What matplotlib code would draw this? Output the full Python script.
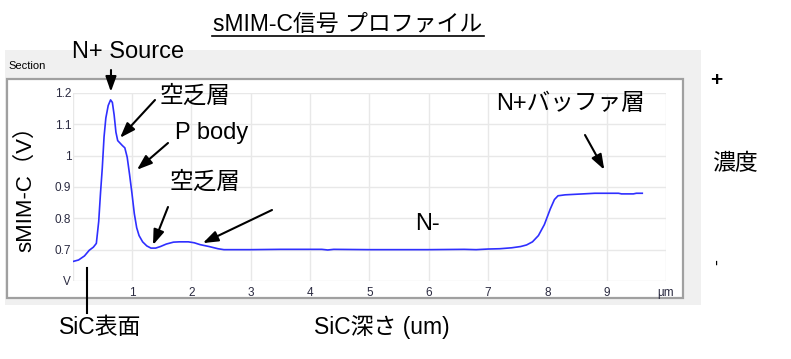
import numpy as np
import matplotlib.pyplot as plt
from matplotlib.patches import Rectangle
from matplotlib.lines import Line2D

# sMIM-C profile (depth in um, signal in V)
depth = [0.00, 0.10, 0.20, 0.28, 0.35, 0.40, 0.44, 0.47, 0.50, 0.53, 0.56, 0.60,
         0.64, 0.67, 0.70, 0.73, 0.76, 0.80, 0.84, 0.88, 0.92, 0.96, 1.00, 1.04,
         1.08, 1.12, 1.18, 1.25, 1.32, 1.40, 1.48, 1.58, 1.70, 1.80, 1.95, 2.05,
         2.15, 2.30, 2.45, 2.55, 3.00, 3.50, 4.20, 4.30, 4.40, 5.00, 5.50, 6.00,
         6.60, 6.80, 7.00, 7.20, 7.40, 7.55, 7.65, 7.75, 7.85, 7.95, 8.05, 8.12,
         8.18, 8.30, 8.60, 8.80, 9.20, 9.25, 9.45, 9.50, 9.60]
signal = [0.662, 0.667, 0.680, 0.698, 0.708, 0.720, 0.790, 0.880, 0.960, 1.060, 1.120, 1.160,
          1.178, 1.170, 1.130, 1.075, 1.048, 1.040, 1.032, 1.025, 0.995, 0.940, 0.880, 0.815,
          0.770, 0.745, 0.725, 0.712, 0.705, 0.705, 0.710, 0.718, 0.724, 0.725, 0.725, 0.722,
          0.716, 0.710, 0.703, 0.700, 0.700, 0.701, 0.701, 0.699, 0.701, 0.700, 0.700, 0.700,
          0.701, 0.700, 0.702, 0.703, 0.706, 0.710, 0.715, 0.725, 0.745, 0.780, 0.830, 0.860,
          0.872, 0.875, 0.878, 0.880, 0.880, 0.878, 0.878, 0.880, 0.880]

xticks = [1, 2, 3, 4, 5, 6, 7, 8, 9, 10]
xticklabels = ['1', '2', '3', '4', '5', '6', '7', '8', '9', 'µm']
yticks = [0.6, 0.7, 0.8, 0.9, 1.0, 1.1, 1.2]
yticklabels = ['V', '0.7', '0.8', '0.9', '1', '1.1', '1.2']

JP = ['Liberation Sans', 'Noto Sans CJK JP', 'DejaVu Sans']
plt.rcParams['font.family'] = JP

W, H = 791, 359
fig = plt.figure(figsize=(W / 100, H / 100), dpi=100)


def px(x, y):
    # pixel position (from top-left) -> figure fraction
    return (x / W, 1 - y / H)


# grey panel and the white framed box
x0, y0 = px(5, 305)
fig.add_artist(Rectangle((x0, y0), 696 / W, 255 / H, transform=fig.transFigure,
                         facecolor='#f0f0f0', edgecolor='none', zorder=-3))
x0, y0 = px(7, 298)
fig.add_artist(Rectangle((x0, y0), 676 / W, 219 / H, transform=fig.transFigure,
                         facecolor='white', edgecolor='#a0a0a0', lw=1.6, zorder=-2))
fig.text(*px(8, 66), 'Section', fontsize=8, va='center', ha='left')

l, b = px(72.6, 281)
ax = fig.add_axes([l, b, (666 - 72.6) / W, (281 - 93) / H])
ax.set_facecolor('none')
ax.plot(depth, signal, color='#2f2fff', lw=1.2)
ax.set_xlim(0, 10)
ax.set_ylim(0.6, 1.2)
ax.set_xticks([0] + xticks)
ax.set_xticklabels([''] + xticklabels)
ax.set_yticks(yticks)
ax.set_yticklabels(yticklabels)
ax.tick_params(length=0, labelsize=8.5, labelcolor='#2a2a40')
ax.tick_params(axis='x', pad=4)
ax.tick_params(axis='y', pad=1)
ax.grid(True, color='#e8e8e8', lw=1)
for s in ax.spines.values():
    s.set_visible(False)

# title with underline
fig.text(*px(348, 24), 'sMIM-C信号 プロファイル', fontsize=16.5, ha='center', va='center')
fig.add_artist(Line2D([212 / W, 484 / W], [1 - 36 / H, 1 - 36 / H], color='black', lw=1.2,
                      transform=fig.transFigure))

fig.text(*px(26, 183), 'sMIM-C（V）', fontsize=16, rotation=90, ha='center', va='center')
fig.text(*px(100, 327), 'SiC表面', fontsize=16.5, ha='center', va='center')
fig.text(*px(382, 327), 'SiC深さ (um)', fontsize=16.5, ha='center', va='center')
fig.add_artist(Line2D([87 / W, 87 / W], [1 - 268 / H, 1 - 313 / H], color='black', lw=1.5,
                      transform=fig.transFigure))

fig.text(*px(716, 80), '+', fontsize=15, fontweight='bold', ha='center', va='center')
fig.text(*px(735, 164), '濃度', fontsize=16.5, ha='center', va='center')
fig.text(*px(718, 262), '-', fontsize=13, rotation=90, ha='center', va='center')

arrow = dict(arrowstyle='-|>,head_length=0.7,head_width=0.25', color='black', lw=1.5,
             mutation_scale=13, shrinkA=0, shrinkB=0)
labels = [
    ('N+ Source', (128, 52), (111, 70), (0.645, 1.204)),
    ('空乏層', (195, 97), (155, 100), (0.80, 1.057)),
    ('P body', (212, 133), (168, 143), (1.085, 0.955)),
    ('空乏層', (205, 183), (168, 207), (1.355, 0.715)),
    ('N-', (427, 224), None, None),
    ('N+バッファ層', (570, 104), (585, 135), (8.96, 0.955)),
]
for txt, pos, tail, tip in labels:
    fig.text(*px(*pos), txt, fontsize=17, ha='center', va='center')
    if tail is not None:
        ax.annotate('', xy=tip, xycoords='data', xytext=px(*tail),
                    textcoords='figure fraction', arrowprops=arrow, annotation_clip=False)

ax.annotate('', xy=(2.195, 0.721), xycoords='data', xytext=px(272, 210),
            textcoords='figure fraction', arrowprops=arrow, annotation_clip=False)

fig.savefig('out.png', dpi=100)
